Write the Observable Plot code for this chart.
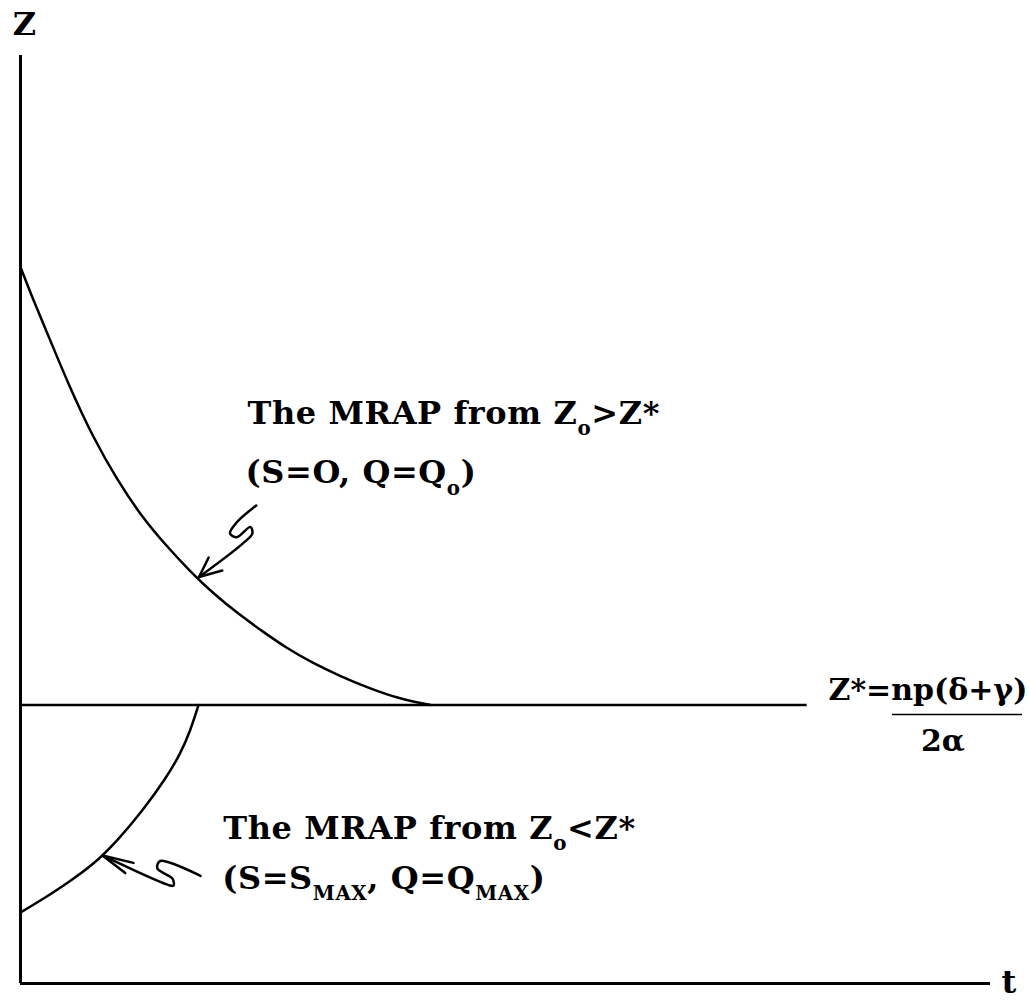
<!DOCTYPE html>
<html>
<head>
<meta charset="utf-8">
<script src="https://cdn.jsdelivr.net/npm/d3@7"></script>
<script src="https://cdn.jsdelivr.net/npm/@observablehq/plot@0.6"></script>
<style>
  html, body { margin: 0; padding: 0; background: #fff; }
  svg { display: block; }
</style>
</head>
<body>
<div id="chart"></div>
<script>
// ---- Data (t and Z in arbitrary units, 0–100) ----
const zStar = 30;
const zStarEnd = 81.1;

// MRAP from Z0 > Z* (decreasing to Z*)
const upperT = [0, 1.3, 2.5, 5, 7.5, 10, 12.5, 15, 17.5, 20, 22.5, 25, 27.5, 30, 33, 36, 39, 42.3];
const upperZ = [77.2, 73.7, 70.75, 64.4, 58.8, 54.2, 50.3, 47.2, 44.4, 41.9, 39.8, 37.9, 36.1, 34.6, 33.1, 31.8, 30.7, 30.0];

// MRAP from Z0 < Z* (increasing to Z*)
const lowerT = [0, 2.5, 5, 7.5, 10, 12.5, 15, 16.5, 17.5, 18.35];
const lowerZ = [7.65, 9.2, 10.95, 12.8, 15.4, 18.5, 22.1, 24.8, 27.2, 30.0];

// Squiggly annotation arrows
const upperArrowT = [24.3, 22.3, 21.6, 22.3, 23.7, 23.9, 22.9, 18.4];
const upperArrowZ = [51.5, 49.7, 48.5, 48.1, 49.2, 48.5, 47.4, 43.8];
const upperHeadT = [19.4, 18.4, 20.8];
const upperHeadZ = [45.9, 43.8, 44.5];

const lowerArrowT = [18.56, 14.4, 14.1, 15.67, 15.77, 15.15, 8.45];
const lowerArrowZ = [11.6, 13.2, 12.4, 11.3, 10.54, 10.65, 13.8];
const lowerHeadT = [11.65, 8.45, 10.8];
const lowerHeadZ = [13.0, 13.8, 11.9];

// Text labels
const labelTexts = [
  "The MRAP from Z_{o}>Z*",
  "(S=O, Q=Q_{o})",
  "The MRAP from Z_{o}<Z*",
  "(S=S_{MAX}, Q=Q_{MAX})"
];
const labelT = [23.4, 23.2, 20.9, 20.8];
const labelZ = [60.3, 53.9, 15.6, 10.2];

const zStarLabel = "Z*=np(δ+γ)";
const zStarLabelT = 83.3;
const zStarLabelZ = 30.5;
const fracBarT = [89.9, 103.3];
const fracBarZ = 29.0;
const denomLabel = "2α";
const denomT = 95.1;
const denomZ = 25.1;

const axisLabels = ["Z", "t"];
const axisLabelT = [0.4, 101.9];
const axisLabelZ = [102.2, -1.0];

// ---- Build tables ----
const upper = upperT.map((t, i) => ({t, z: upperZ[i]}));
const lower = lowerT.map((t, i) => ({t, z: lowerZ[i]}));
const upArrow = upperArrowT.map((t, i) => ({t, z: upperArrowZ[i]}));
const upHead = upperHeadT.map((t, i) => ({t, z: upperHeadZ[i]}));
const loArrow = lowerArrowT.map((t, i) => ({t, z: lowerArrowZ[i]}));
const loHead = lowerHeadT.map((t, i) => ({t, z: lowerHeadZ[i]}));
const labels = labelTexts.map((s, i) => ({s, t: labelT[i], z: labelZ[i]}));
const axLabels = axisLabels.map((s, i) => ({s, t: axisLabelT[i], z: axisLabelZ[i]}));

const FS = 32;
const font = "'DejaVu Serif', 'Liberation Serif', serif";

const chart = Plot.plot({
  width: 1029,
  height: 1004,
  marginLeft: 20,
  marginRight: 39,
  marginTop: 55,
  marginBottom: 21,
  x: {domain: [0, 100], axis: null},
  y: {domain: [0, 100], axis: null},
  style: {fontFamily: font, background: "white", overflow: "visible"},
  marks: [
    Plot.ruleX([0], {y1: 0, y2: 100, strokeWidth: 3, stroke: "black"}),
    Plot.ruleY([0], {x1: 0, x2: 100, strokeWidth: 3, stroke: "black"}),
    Plot.ruleY([zStar], {x1: 0, x2: zStarEnd, strokeWidth: 2.5, stroke: "black"}),
    Plot.line(upper, {x: "t", y: "z", curve: "basis", strokeWidth: 2.5, stroke: "black"}),
    Plot.line(lower, {x: "t", y: "z", curve: "basis", strokeWidth: 2.5, stroke: "black"}),
    Plot.line(upArrow, {x: "t", y: "z", curve: "catmull-rom", strokeWidth: 2.5, stroke: "black"}),
    Plot.line(upHead, {x: "t", y: "z", strokeWidth: 2.5, stroke: "black"}),
    Plot.line(loArrow, {x: "t", y: "z", curve: "catmull-rom", strokeWidth: 2.5, stroke: "black"}),
    Plot.line(loHead, {x: "t", y: "z", strokeWidth: 2.5, stroke: "black"}),
    Plot.ruleY([fracBarZ], {x1: fracBarT[0], x2: fracBarT[1], strokeWidth: 1.5, stroke: "black"}),
    Plot.text(labels, {x: "t", y: "z", text: "s", textAnchor: "start", lineAnchor: "bottom",
      fontSize: FS, fontWeight: "bold", fill: "black"}),
    Plot.text([zStarLabel], {x: () => zStarLabelT, y: () => zStarLabelZ, text: d => d, textAnchor: "start",
      lineAnchor: "bottom", fontSize: 30, fontWeight: "bold", fill: "black"}),
    Plot.text([denomLabel], {x: () => denomT, y: () => denomZ, text: d => d, textAnchor: "middle",
      lineAnchor: "bottom", fontSize: 30, fontWeight: "bold", fill: "black"}),
    Plot.text(axLabels, {x: "t", y: "z", text: "s", textAnchor: "middle", lineAnchor: "bottom",
      fontSize: 32, fontWeight: "bold", fill: "black"})
  ]
});

document.getElementById("chart").appendChild(chart);

// Convert "_{...}" into real subscripts (tspans)
const NS = "http://www.w3.org/2000/svg";
chart.querySelectorAll("text").forEach(el => {
  const s = el.textContent;
  if (!s.includes("_{")) return;
  const fs = FS;
  const shift = fs * 0.36;
  el.setAttribute("letter-spacing", "0.6");
  el.textContent = "";
  let shifted = false;
  for (const p of s.split(/(_\{[^}]*\})/)) {
    if (!p) continue;
    const ts = document.createElementNS(NS, "tspan");
    if (p.startsWith("_{")) {
      ts.textContent = p.slice(2, -1);
      ts.setAttribute("font-size", fs * 0.62);
      ts.setAttribute("dy", shift);
      shifted = true;
    } else {
      ts.textContent = p;
      if (shifted) { ts.setAttribute("dy", -shift); shifted = false; }
    }
    el.appendChild(ts);
  }
});
</script>
</body>
</html>
